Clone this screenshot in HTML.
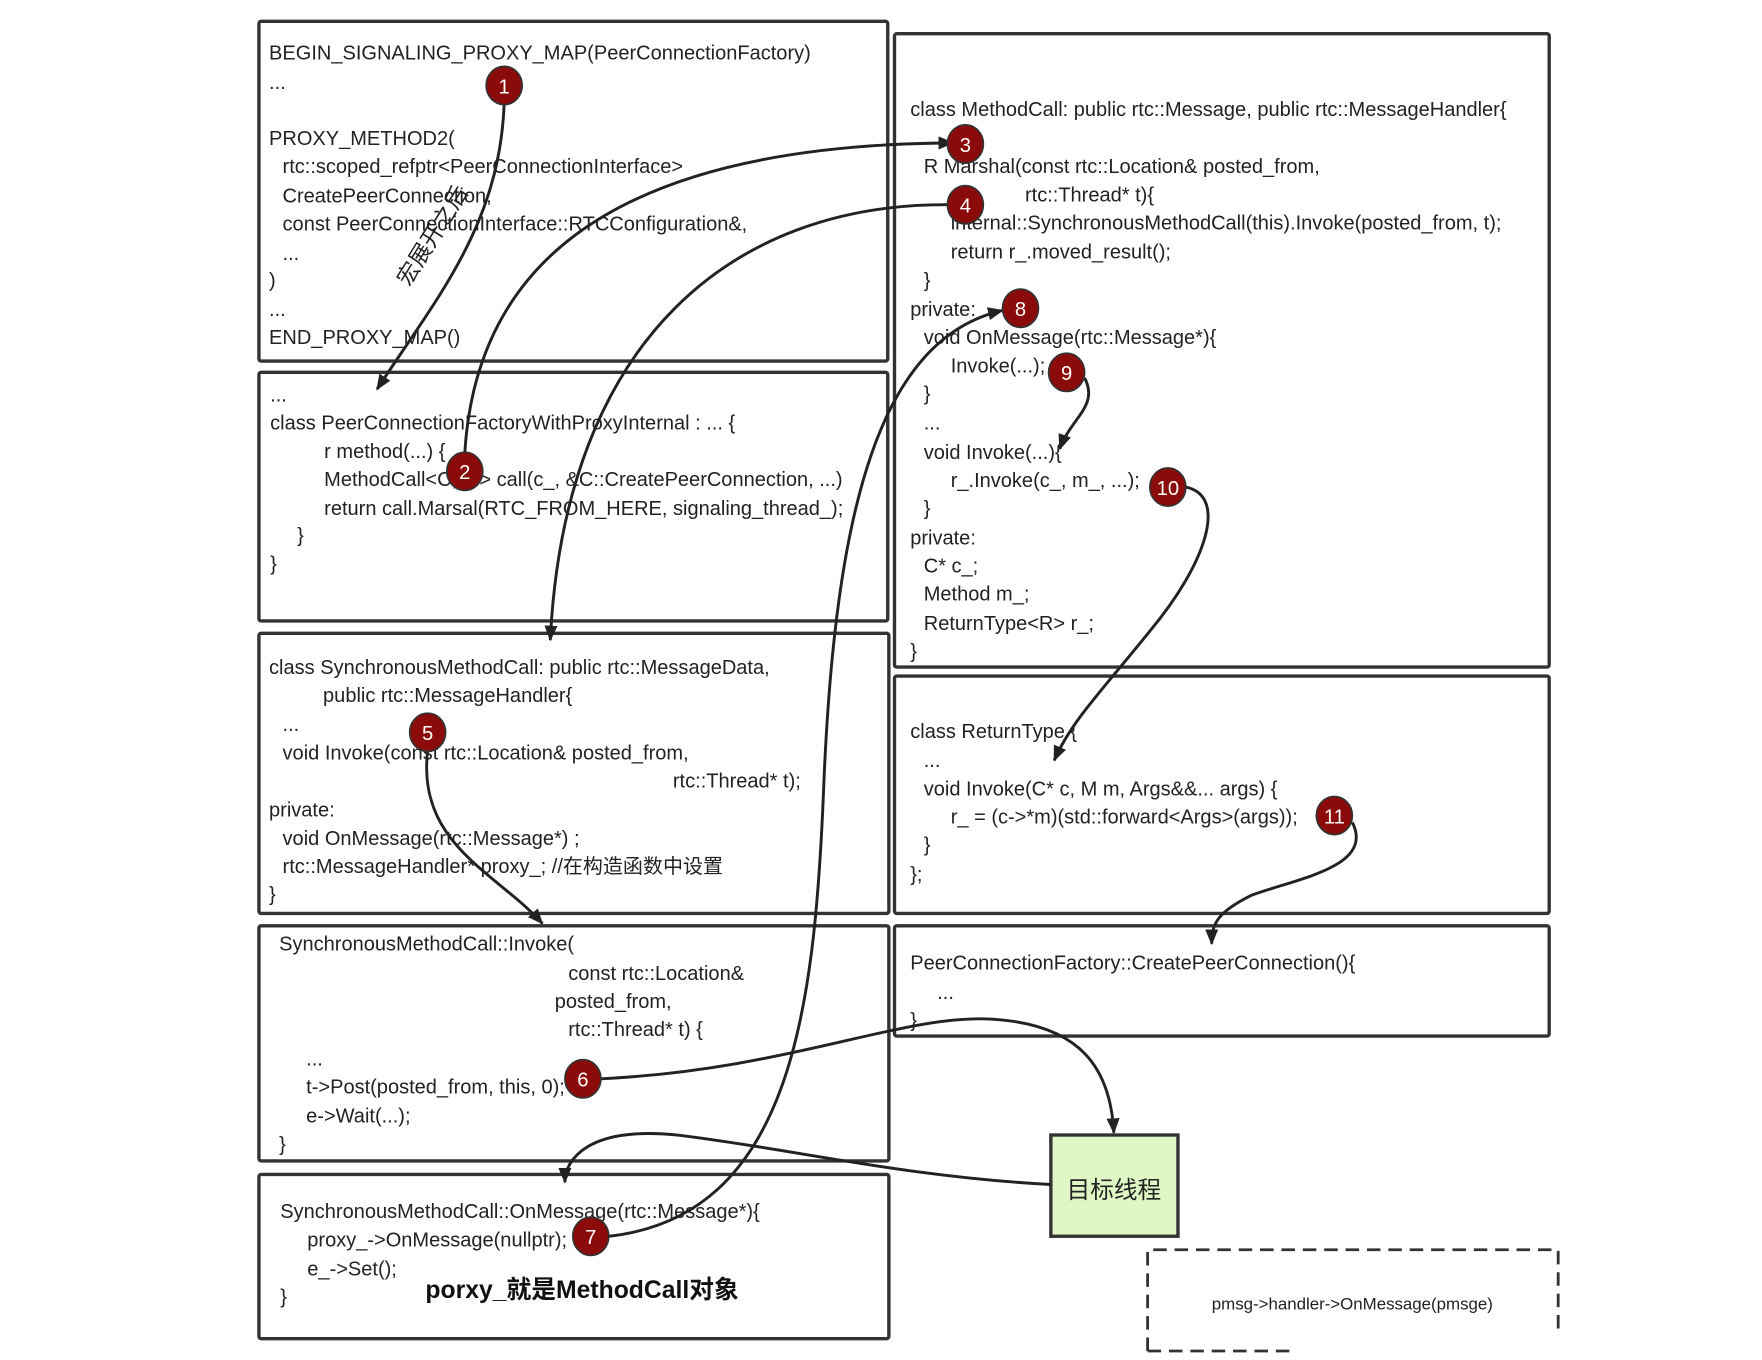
<!DOCTYPE html>
<html><head><meta charset="utf-8">
<style>
html,body{margin:0;padding:0;background:#fff;}
svg{display:block;}
text{font-family:"Liberation Sans","Noto Sans CJK SC",sans-serif;font-size:17.8px;fill:#222;}
.n{fill:#fff;font-size:18px;text-anchor:middle;}
</style></head>
<body>
<svg width="1762" height="1360" viewBox="-2 -1 1566 1209" xmlns="http://www.w3.org/2000/svg">
<defs>
<marker id="a" viewBox="0 0 12 10" refX="11" refY="5" markerWidth="14" markerHeight="12" orient="auto" markerUnits="userSpaceOnUse">
<path d="M0,0 L12,5 L0,10 z" fill="#222"/>
</marker>
</defs>
<g fill="none" stroke="#333" stroke-width="3">
<rect x="228" y="18" width="559" height="302" rx="2"/>
<rect x="228" y="330" width="559" height="221" rx="2"/>
<rect x="228" y="562" width="560" height="249" rx="2"/>
<rect x="228" y="822" width="560" height="209" rx="2"/>
<rect x="228" y="1043" width="560" height="146" rx="2"/>
<rect x="793" y="29" width="582" height="563" rx="2"/>
<rect x="793" y="600" width="582" height="211" rx="2"/>
<rect x="793" y="822" width="582" height="98" rx="2"/>
</g>
<rect x="932" y="1008" width="113" height="90" fill="#dff7c4" stroke="#333" stroke-width="3"/>
<path d="M1018,1200 V1110 H1383 V1180 M1018,1200 H1150" fill="none" stroke="#333" stroke-width="2.5" stroke-dasharray="12,7"/>

<text x="237" y="52">BEGIN_SIGNALING_PROXY_MAP(PeerConnectionFactory)</text>
<text x="237" y="78">...</text>
<text x="237" y="128">PROXY_METHOD2(</text>
<text x="249" y="153">rtc::scoped_refptr&lt;PeerConnectionInterface&gt;</text>
<text x="249" y="179">CreatePeerConnection,</text>
<text x="249" y="204">const PeerConnectionInterface::RTCConfiguration&amp;,</text>
<text x="249" y="230">...</text>
<text x="237" y="254">)</text>
<text x="237" y="280">...</text>
<text x="237" y="305">END_PROXY_MAP()</text>

<text x="238" y="356">...</text>
<text x="238" y="381">class PeerConnectionFactoryWithProxyInternal : ...  {</text>
<text x="286" y="406">r method(...) {</text>
<text x="286" y="431">MethodCall&lt;C, ...&gt; call(c_, &amp;C::CreatePeerConnection, ...)</text>
<text x="286" y="457">return call.Marsal(RTC_FROM_HERE, signaling_thread_);</text>
<text x="262" y="481">}</text>
<text x="238" y="506">}</text>

<text x="237" y="598">class SynchronousMethodCall: public rtc::MessageData,</text>
<text x="285" y="623">public rtc::MessageHandler{</text>
<text x="249" y="649">...</text>
<text x="249" y="674">void Invoke(const rtc::Location&amp; posted_from,</text>
<text x="596" y="699">rtc::Thread* t);</text>
<text x="237" y="725">private:</text>
<text x="249" y="750">void OnMessage(rtc::Message*) ;</text>
<text x="249" y="775">rtc::MessageHandler* proxy_; //在构造函数中设置</text>
<text x="237" y="800">}</text>

<text x="246" y="844">SynchronousMethodCall::Invoke(</text>
<text x="503" y="870">const rtc::Location&amp;</text>
<text x="491" y="895">posted_from,</text>
<text x="503" y="920">rtc::Thread* t) {</text>
<text x="270" y="946">...</text>
<text x="270" y="971">t-&gt;Post(posted_from, this, 0);</text>
<text x="270" y="997">e-&gt;Wait(...);</text>
<text x="246" y="1022">}</text>

<text x="247" y="1082">SynchronousMethodCall::OnMessage(rtc::Message*){</text>
<text x="271" y="1107">proxy_-&gt;OnMessage(nullptr);</text>
<text x="271" y="1133">e_-&gt;Set();</text>
<text x="247" y="1158">}</text>
<text x="376" y="1153" style="font-size:22px;font-weight:bold;fill:#111">porxy_就是MethodCall对象</text>

<text x="807" y="102">class MethodCall: public rtc::Message, public rtc::MessageHandler{</text>
<text x="819" y="153">R Marshal(const rtc::Location&amp; posted_from,</text>
<text x="909" y="178">rtc::Thread* t){</text>
<text x="843" y="203">internal::SynchronousMethodCall(this).Invoke(posted_from, t);</text>
<text x="843" y="229">return r_.moved_result();</text>
<text x="819" y="254">}</text>
<text x="807" y="280">private:</text>
<text x="819" y="305">void OnMessage(rtc::Message*){</text>
<text x="843" y="330">Invoke(...);</text>
<text x="819" y="355">}</text>
<text x="819" y="381">...</text>
<text x="819" y="407">void Invoke(...){</text>
<text x="843" y="432">r_.Invoke(c_, m_, ...);</text>
<text x="819" y="457">}</text>
<text x="807" y="483">private:</text>
<text x="819" y="508">C* c_;</text>
<text x="819" y="533">Method m_;</text>
<text x="819" y="559">ReturnType&lt;R&gt;  r_;</text>
<text x="807" y="584">}</text>

<text x="807" y="655">class ReturnType {</text>
<text x="819" y="681">...</text>
<text x="819" y="706">void Invoke(C* c, M m, Args&amp;&amp;... args) {</text>
<text x="843" y="731">r_ = (c-&gt;*m)(std::forward&lt;Args&gt;(args));</text>
<text x="819" y="756">}</text>
<text x="807" y="782">};</text>

<text x="807" y="861">PeerConnectionFactory::CreatePeerConnection(){</text>
<text x="831" y="887">...</text>
<text x="807" y="912">}</text>

<text x="988" y="1064" style="font-size:21px;text-anchor:middle">目标线程</text>
<text x="1200" y="1163" style="font-size:15px;text-anchor:middle">pmsg-&gt;handler-&gt;OnMessage(pmsge)</text>

<g fill="none" stroke="#222" stroke-width="2.6" marker-end="url(#a)">
<path d="M446,91 C442,200 385,265 333,345"/>
<path d="M411,402 C420,250 520,128 845,126"/>
<path d="M840,181 C650,180 500,300 487,568"/>
<path d="M378,666 C368,750 440,775 480,820"/>
<path d="M532,958 C700,950 800,900 880,905 C960,910 985,950 988,1006"/>
<path d="M539,1098 C700,1080 722,900 730,700 C740,450 780,300 889,275"/>
<path d="M962,335 C975,360 950,370 940,398"/>
<path d="M1052,432 C1090,440 1070,500 1020,560 C980,610 950,640 935,675"/>
<path d="M1200,730 C1220,770 1150,780 1110,795 C1080,810 1075,820 1075,838"/>
<path d="M932,1052 C800,1045 700,1020 600,1008 C520,1000 500,1030 500,1050"/>
</g>
<text x="0" y="0" transform="translate(388,212) rotate(-58)" style="font-size:20px;text-anchor:middle">宏展开之后</text>

<g>
<ellipse cx="446" cy="75" rx="16" ry="17" fill="#8b0a0a" stroke="#333" stroke-width="1.5"/><text class="n" x="446" y="82">1</text>
<ellipse cx="411" cy="418" rx="16" ry="17" fill="#8b0a0a" stroke="#333" stroke-width="1.5"/><text class="n" x="411" y="425">2</text>
<ellipse cx="856" cy="127" rx="16" ry="17" fill="#8b0a0a" stroke="#333" stroke-width="1.5"/><text class="n" x="856" y="134">3</text>
<ellipse cx="856" cy="181" rx="16" ry="17" fill="#8b0a0a" stroke="#333" stroke-width="1.5"/><text class="n" x="856" y="188">4</text>
<ellipse cx="378" cy="650" rx="16" ry="17" fill="#8b0a0a" stroke="#333" stroke-width="1.5"/><text class="n" x="378" y="657">5</text>
<ellipse cx="516" cy="958" rx="16" ry="17" fill="#8b0a0a" stroke="#333" stroke-width="1.5"/><text class="n" x="516" y="965">6</text>
<ellipse cx="523" cy="1098" rx="16" ry="17" fill="#8b0a0a" stroke="#333" stroke-width="1.5"/><text class="n" x="523" y="1105">7</text>
<ellipse cx="905" cy="273" rx="16" ry="17" fill="#8b0a0a" stroke="#333" stroke-width="1.5"/><text class="n" x="905" y="280">8</text>
<ellipse cx="946" cy="330" rx="16" ry="17" fill="#8b0a0a" stroke="#333" stroke-width="1.5"/><text class="n" x="946" y="337">9</text>
<ellipse cx="1036" cy="432" rx="16" ry="17" fill="#8b0a0a" stroke="#333" stroke-width="1.5"/><text class="n" x="1036" y="439">10</text>
<ellipse cx="1184" cy="724" rx="16" ry="17" fill="#8b0a0a" stroke="#333" stroke-width="1.5"/><text class="n" x="1184" y="731">11</text>
</g>
</svg>
</body></html>
